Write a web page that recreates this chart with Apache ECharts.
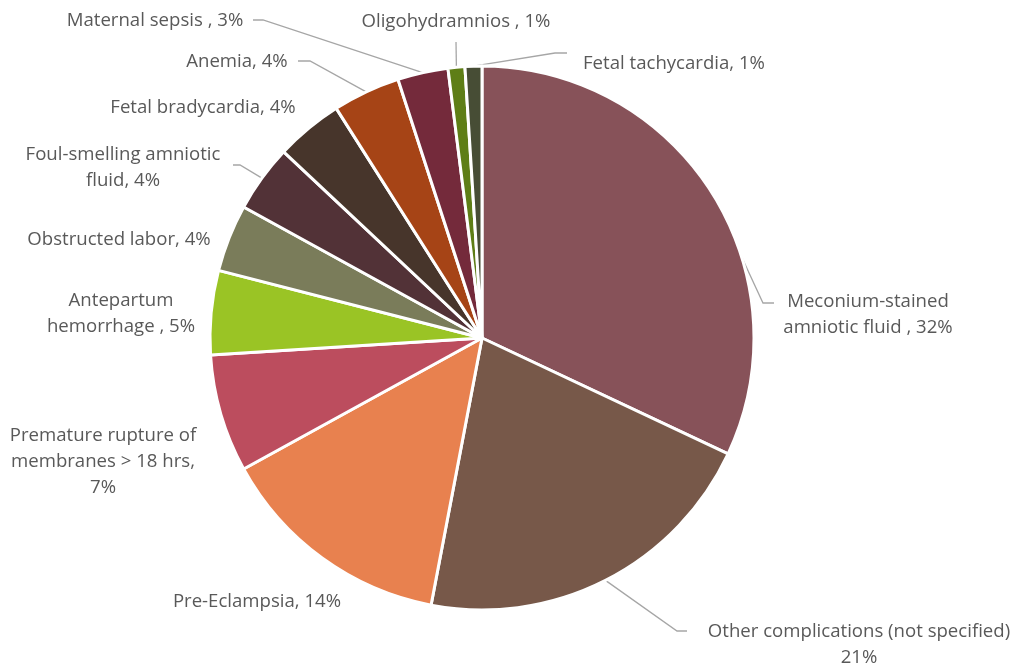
<!DOCTYPE html>
<html>
<head>
<meta charset="utf-8">
<title>Complications</title>
<script src="https://cdn.jsdelivr.net/npm/echarts@6/dist/echarts.min.js"></script>
<style>
  html, body { margin: 0; padding: 0; background: #ffffff; }
  #chart { width: 1015px; height: 665px; }
</style>
</head>
<body>
<div id="chart"></div>
<script>
// Share of each complication (percent), clockwise from 12 o'clock
const categories = [
  'Meconium-stained amniotic fluid ',
  'Other complications (not specified)',
  'Pre-Eclampsia',
  'Premature rupture of membranes > 18 hrs',
  'Antepartum hemorrhage ',
  'Obstructed labor',
  'Foul-smelling amniotic fluid',
  'Fetal bradycardia',
  'Anemia',
  'Maternal sepsis ',
  'Oligohydramnios ',
  'Fetal tachycardia'
];
const values = [32, 21, 14, 7, 5, 4, 4, 4, 4, 3, 1, 1];

const sliceColors = [
  '#875259', '#775849', '#E8814F', '#BC4D5E', '#9AC425', '#7A7C5A',
  '#523237', '#47352B', '#A64416', '#742A3B', '#5E7E16', '#474D35'
];

// Label placement: text centre, word counts where lines wrap,
// separator before the percentage, and leader bend / end points
const labelPlan = [
  { cx: 868, cy: 315, wrap: [1], sep: ', ', line: [[763, 303], [774, 303]] },
  { cx: 859, cy: 645, wrap: [], sep: '\n', line: [[677, 631], [687, 631]] },
  { cx: 257, cy: 602, wrap: [], sep: ', ' },
  { cx: 103, cy: 462, wrap: [3], sep: ',\n' },
  { cx: 121, cy: 314, wrap: [1], sep: ', ' },
  { cx: 119, cy: 240, wrap: [], sep: ', ' },
  { cx: 123, cy: 168, wrap: [2], sep: ', ', line: [[240, 165], [233, 165]] },
  { cx: 203, cy: 108, wrap: [], sep: ', ' },
  { cx: 237, cy: 62, wrap: [], sep: ', ', line: [[310, 61], [298, 61]] },
  { cx: 155, cy: 21, wrap: [], sep: ', ', line: [[263, 20], [253, 20]] },
  { cx: 456, cy: 22, wrap: [], sep: ', ', line: [[456, 42], [456, 42]] },
  { cx: 674, cy: 64, wrap: [], sep: ', ', line: [[555, 53], [567, 53]] }
];

function labelText(i, pct) {
  const plan = labelPlan[i];
  const words = categories[i].split(' ').filter(w => w.length);
  const trailingSpace = categories[i].endsWith(' ') ? ' ' : '';
  const lines = [];
  let start = 0;
  plan.wrap.forEach(n => { lines.push(words.slice(start, n).join(' ')); start = n; });
  lines.push(words.slice(start).join(' '));
  return lines.join('\n') + trailingSpace + plan.sep + pct;
}

const total = values.reduce((a, b) => a + b, 0);
const seriesData = categories.map((name, i) => ({
  name: name,
  value: values[i],
  itemStyle: { color: sliceColors[i] },
  labelLine: { show: !!labelPlan[i].line }
}));

const chart = echarts.init(document.getElementById('chart'), null, { renderer: 'canvas' });
chart.setOption({
  animation: false,
  backgroundColor: '#ffffff',
  series: [{
    type: 'pie',
    center: [482, 338],
    radius: 272,
    startAngle: 90,
    clockwise: true,
    avoidLabelOverlap: false,
    data: seriesData,
    itemStyle: { borderColor: '#ffffff', borderWidth: 3 },
    label: {
      show: true,
      position: 'outside',
      color: '#595959',
      fontFamily: 'Open Sans',
      fontSize: 18.6,
      lineHeight: 26,
      align: 'center',
      formatter: p => labelText(p.dataIndex, Math.round(p.value / total * 100) + '%')
    },
    labelLine: {
      show: true,
      length: 10,
      length2: 10,
      lineStyle: { color: '#A6A6A6', width: 1.3 }
    },
    labelLayout: function (params) {
      const plan = labelPlan[params.dataIndex];
      const out = { x: plan.cx, y: plan.cy, align: 'center', verticalAlign: 'middle', hideOverlap: false };
      if (plan.line && params.labelLinePoints) {
        out.labelLinePoints = [params.labelLinePoints[0], plan.line[0], plan.line[1]];
      }
      return out;
    }
  }]
});
</script>
</body>
</html>
